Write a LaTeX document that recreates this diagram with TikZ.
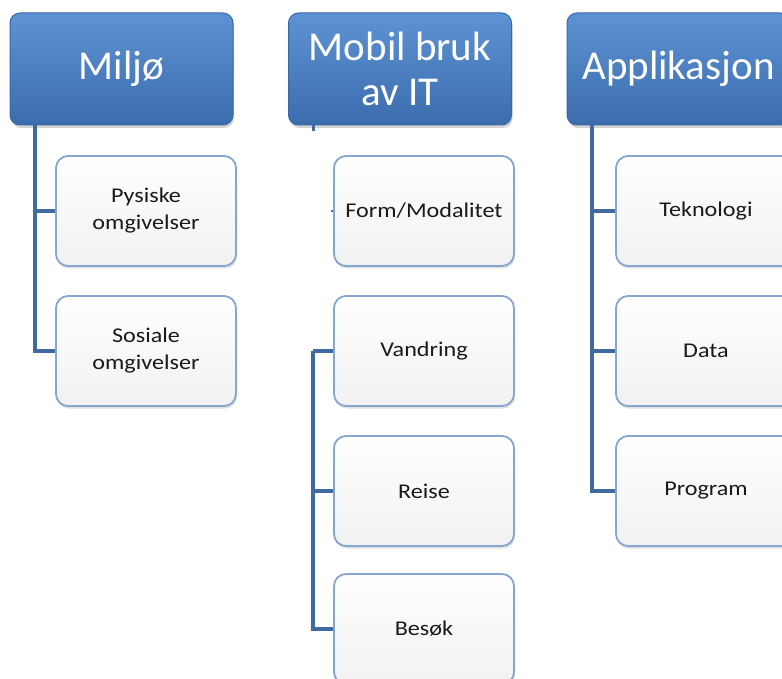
\documentclass[tikz,border=0pt]{standalone}
\usepackage{fontspec}
\setmainfont{Carlito}
\newfontfamily\itemfont[FakeStretch=1.15]{Carlito}
\usetikzlibrary{shadows}
\definecolor{headtop}{HTML}{5E93D3}
\definecolor{headbot}{HTML}{3B6CAE}
\definecolor{headline}{HTML}{3A68A6}
\definecolor{itemline}{HTML}{86A6D0}
\definecolor{itemfill}{HTML}{F1F1F1}
\definecolor{linkcol}{HTML}{416A9E}
\definecolor{itemtext}{HTML}{1A1A1A}
\tikzset{
  headbox/.style={draw=headline, line width=1pt, rounded corners=10pt,
    top color=headtop, bottom color=headbot,
    minimum width=223pt, minimum height=112pt, inner sep=0pt,
    align=center, text=white, font=\fontsize{41}{45}\selectfont,
    drop shadow={shadow xshift=1pt, shadow yshift=-3pt, opacity=0.35}},
  itembox/.style={draw=itemline, line width=1.8pt, rounded corners=12pt,
    top color=white, bottom color=itemfill,
    minimum width=180pt, minimum height=110pt, inner sep=0pt,
    align=center, text=itemtext, font=\itemfont\fontsize{21}{27}\selectfont,
    drop shadow={shadow xshift=1pt, shadow yshift=-2.5pt, opacity=0.25}},
  link/.style={draw=linkcol, line width=4pt}
}
\begin{document}
\begin{tikzpicture}[x=1pt, y=-1pt]
  \useasboundingbox (0,0) rectangle (782,679);
  \clip (0,0) rectangle (782,679);

  % column heads
  \node[headbox] (miljo) at (121.5,69) {Milj\o};
  \node[headbox] (mobil) at (400,69) {Mobil bruk\\av IT};
  \node[headbox] (app)   at (678.5,69) {Applikasjon};

  % first column
  \node[itembox] (pysiske) at (146,211) {Pysiske\\omgivelser};
  \node[itembox] (sosiale) at (146,351) {Sosiale\\omgivelser};

  % second column
  \node[itembox] (form)     at (424,211) {Form/Modalitet};
  \node[itembox] (vandring) at (424,351) {Vandring};
  \node[itembox] (reise)    at (424,491) {Reise};
  \node[itembox] (besok)    at (424,629) {Bes\o k};

  % third column
  \node[itembox] (tek)  at (706,211) {Teknologi};
  \node[itembox] (data) at (706,351) {Data};
  \node[itembox] (prog) at (706,491) {Program};

  % trunk points
  \coordinate (trunkA) at (35,125);
  \coordinate (trunkB) at (313,125);
  \coordinate (stubB) at (313,131);
  \coordinate (dotB) at (331,211);
  \coordinate (trunkC) at (592,125);

  % connectors, first column
  \draw[link] (trunkA) |- (sosiale.west);
  \draw[link] (trunkA |- pysiske.west) -- (pysiske.west);

  % connectors, second column
  \draw[link, line width=3pt] (trunkB) -- (stubB);
  \draw[link, line width=2.5pt] (dotB) -- (form.west);
  \draw[link] (trunkB |- vandring.west) -- (vandring.west);
  \draw[link] (trunkB |- vandring.west) |- (besok.west);
  \draw[link] (trunkB |- reise.west) -- (reise.west);

  % connectors, third column
  \draw[link] (trunkC) |- (prog.west);
  \draw[link] (trunkC |- tek.west) -- (tek.west);
  \draw[link] (trunkC |- data.west) -- (data.west);
\end{tikzpicture}
\end{document}
